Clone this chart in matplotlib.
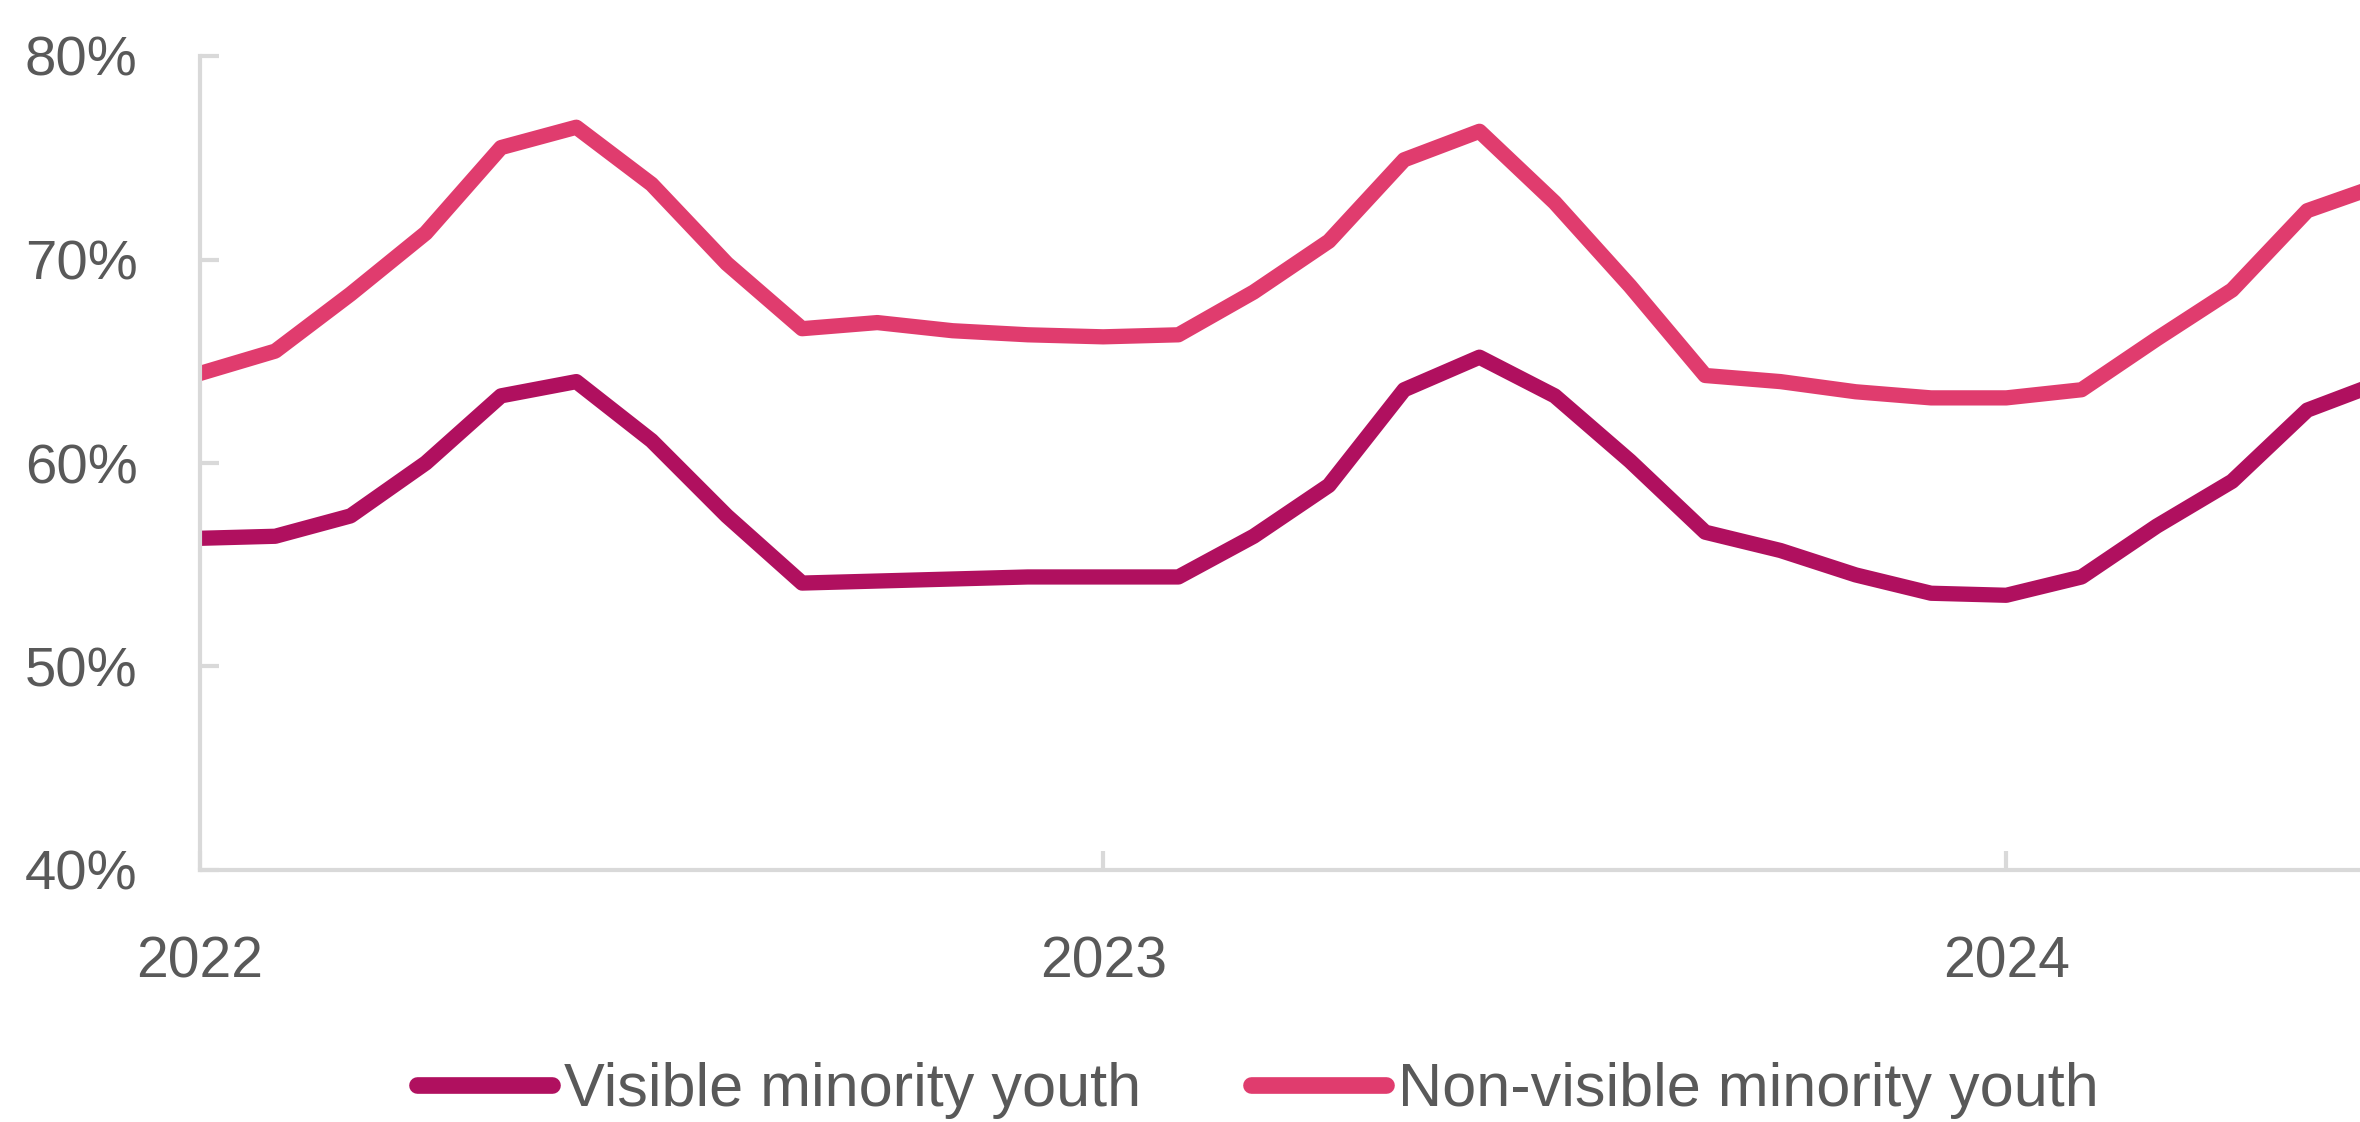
import matplotlib
matplotlib.use("Agg")
import matplotlib.pyplot as plt

# monthly values, Jan 2022 onwards (index 0 = Jan 2022)
months = list(range(30))
visible = [56.3, 56.4, 57.4, 60.0, 63.3, 64.0, 61.1, 57.4, 54.1, 54.2,
           54.3, 54.4, 54.4, 54.4, 56.4, 58.9, 63.6, 65.2, 63.3, 60.1,
           56.6, 55.7, 54.5, 53.6, 53.5, 54.4, 56.9, 59.1, 62.6, 64.0]
non_visible = [64.4, 65.5, 68.3, 71.3, 75.5, 76.5, 73.7, 69.8, 66.6, 66.9,
               66.5, 66.3, 66.2, 66.3, 68.4, 70.9, 74.9, 76.3, 72.8, 68.7,
               64.3, 64.0, 63.5, 63.2, 63.2, 63.6, 66.1, 68.5, 72.4, 73.7]
year_ticks = [0, 12, 24]
year_labels = ["2022", "2023", "2024"]
y_ticks = [40, 50, 60, 70, 80]

DARK = "#B0105F"
PINK = "#E03C6E"
GREY = "#D9D9D9"
TXT = "#595959"

fig = plt.figure(figsize=(23.6, 11.22), dpi=100)
ax = fig.add_axes([200/2360, 1 - 870/1122, 1 - 200/2360, (870 - 56)/1122])

ax.plot(months, visible, color=DARK, lw=11, solid_joinstyle="round",
        label="Visible minority youth")
ax.plot(months, non_visible, color=PINK, lw=11, solid_joinstyle="round",
        label="Non-visible minority youth")

ax.set_ylim(40, 80)
ax.set_xlim(0, 28.7)
ax.set_yticks(y_ticks)
ax.set_yticklabels([f"{v}%" for v in y_ticks])
ax.set_xticks(year_ticks)
ax.set_xticklabels(year_labels)

for s in ["top", "right"]:
    ax.spines[s].set_visible(False)
for s in ["left", "bottom"]:
    ax.spines[s].set_color(GREY)
    ax.spines[s].set_linewidth(3)

ax.tick_params(axis="y", direction="in", length=14, width=3, color=GREY,
               labelcolor=TXT, labelsize=40.5, pad=45)
ax.tick_params(axis="x", direction="in", length=14, width=3, color=GREY,
               labelcolor=TXT, labelsize=41, pad=47)
for lab in ax.get_xticklabels() + ax.get_yticklabels():
    lab.set_fontfamily(["Liberation Sans", "DejaVu Sans"])

leg = fig.legend(loc="center", bbox_to_anchor=(0.533, 0.028), ncol=2, frameon=False,
                 prop={"family": ["Liberation Sans Narrow", "Liberation Sans", "DejaVu Sans"], "size": 44},
                 handlelength=2.2, handletextpad=0.2, columnspacing=1.8)
for t in leg.get_texts():
    t.set_color(TXT)
for ln in leg.get_lines():
    ln.set_linewidth(12)
    ln.set_solid_capstyle("round")

fig.savefig("out.png", dpi=100)
